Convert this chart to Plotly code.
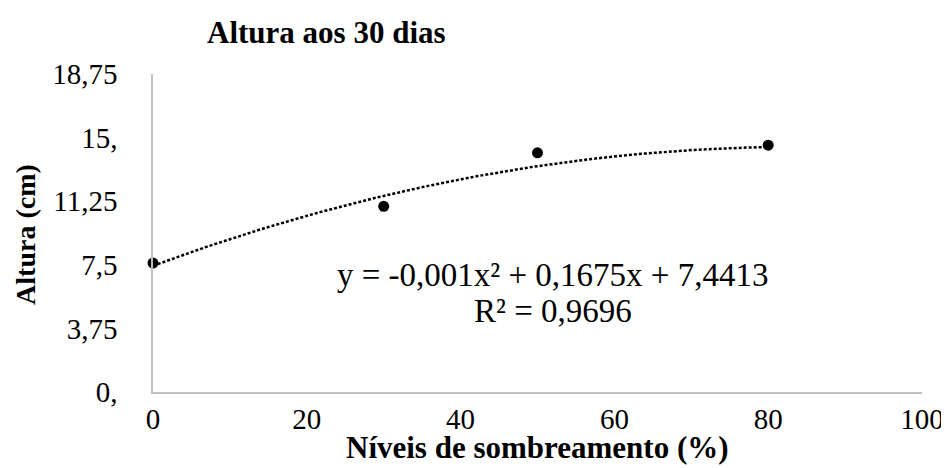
import numpy as np
import plotly.graph_objects as go

# Data
x_vals = [0, 30, 50, 80]
y_vals = [7.6, 10.95, 14.1, 14.55]
coef = [-0.001, 0.1675, 7.4413]  # trendline coefficients (a, b, c)
x_ticks = [0, 20, 40, 60, 80, 100]
y_ticks = [0, 3.75, 7.5, 11.25, 15, 18.75]
y_tick_text = ["0,", "3,75", "7,5", "11,25", "15,", "18,75"]
title_text = "Altura aos 30 dias"
eq_text = "y = -0,001x² + 0,1675x + 7,4413"
r2_text = "R² = 0,9696"

FONT = "Liberation Serif, Times New Roman, serif"

xt = np.linspace(min(x_vals), max(x_vals), 200)
yt = np.polyval(coef, xt)

fig = go.Figure()
fig.add_trace(go.Scatter(x=xt, y=yt, mode="lines",
                         line=dict(color="black", width=2.5, dash="3px,2px"),
                         hoverinfo="skip", showlegend=False, cliponaxis=False))
fig.add_trace(go.Scatter(x=x_vals, y=y_vals, mode="markers",
                         marker=dict(color="black", size=11),
                         showlegend=False, cliponaxis=False))

# page body has an 8px margin, so the figure is sized/offset to compensate
fig.update_layout(
    width=941, height=460,
    margin=dict(l=145, r=27, t=66, b=76, autoexpand=False),
    paper_bgcolor="white", plot_bgcolor="white",
    font=dict(family=FONT, color="black", size=28),
    xaxis=dict(range=[0, 100], tickvals=x_ticks, ticktext=[str(v) for v in x_ticks],
               showgrid=False, zeroline=False, showline=True,
               linecolor="#bfbfbf", linewidth=1.5, ticks="",
               automargin=False, ticklabeloverflow="allow",
               ticklabelstandoff=0, tickfont=dict(size=29)),
    yaxis=dict(range=[0, 18.75], tickvals=y_ticks, ticktext=y_tick_text,
               showgrid=False, zeroline=False, showline=True,
               linecolor="#bfbfbf", linewidth=1.5, ticks="",
               automargin=False, ticklabeloverflow="allow",
               ticklabelstandoff=28, tickfont=dict(size=29)),
    annotations=[
        dict(text="<b>" + title_text + "</b>", xref="paper", yref="paper",
             x=0.068, y=1.13, xanchor="left", yanchor="middle",
             showarrow=False, font=dict(size=31)),
        dict(text="<b>Níveis de sombreamento (%)</b>", xref="paper", yref="paper",
             x=0.5, y=-0.236, xanchor="center", yanchor="bottom",
             showarrow=False, font=dict(size=31)),
        dict(text="<b>Altura (cm)</b>", xref="paper", yref="paper",
             x=-0.166, y=0.495, xanchor="center", yanchor="middle",
             textangle=-90, showarrow=False, font=dict(size=28)),
        dict(text=eq_text, xref="paper", yref="paper",
             x=0.52, y=0.367, xanchor="center", yanchor="middle",
             showarrow=False, font=dict(size=33)),
        dict(text=r2_text, xref="paper", yref="paper",
             x=0.52, y=0.254, xanchor="center", yanchor="middle",
             showarrow=False, font=dict(size=33)),
    ],
)

fig.write_html("out.html")
